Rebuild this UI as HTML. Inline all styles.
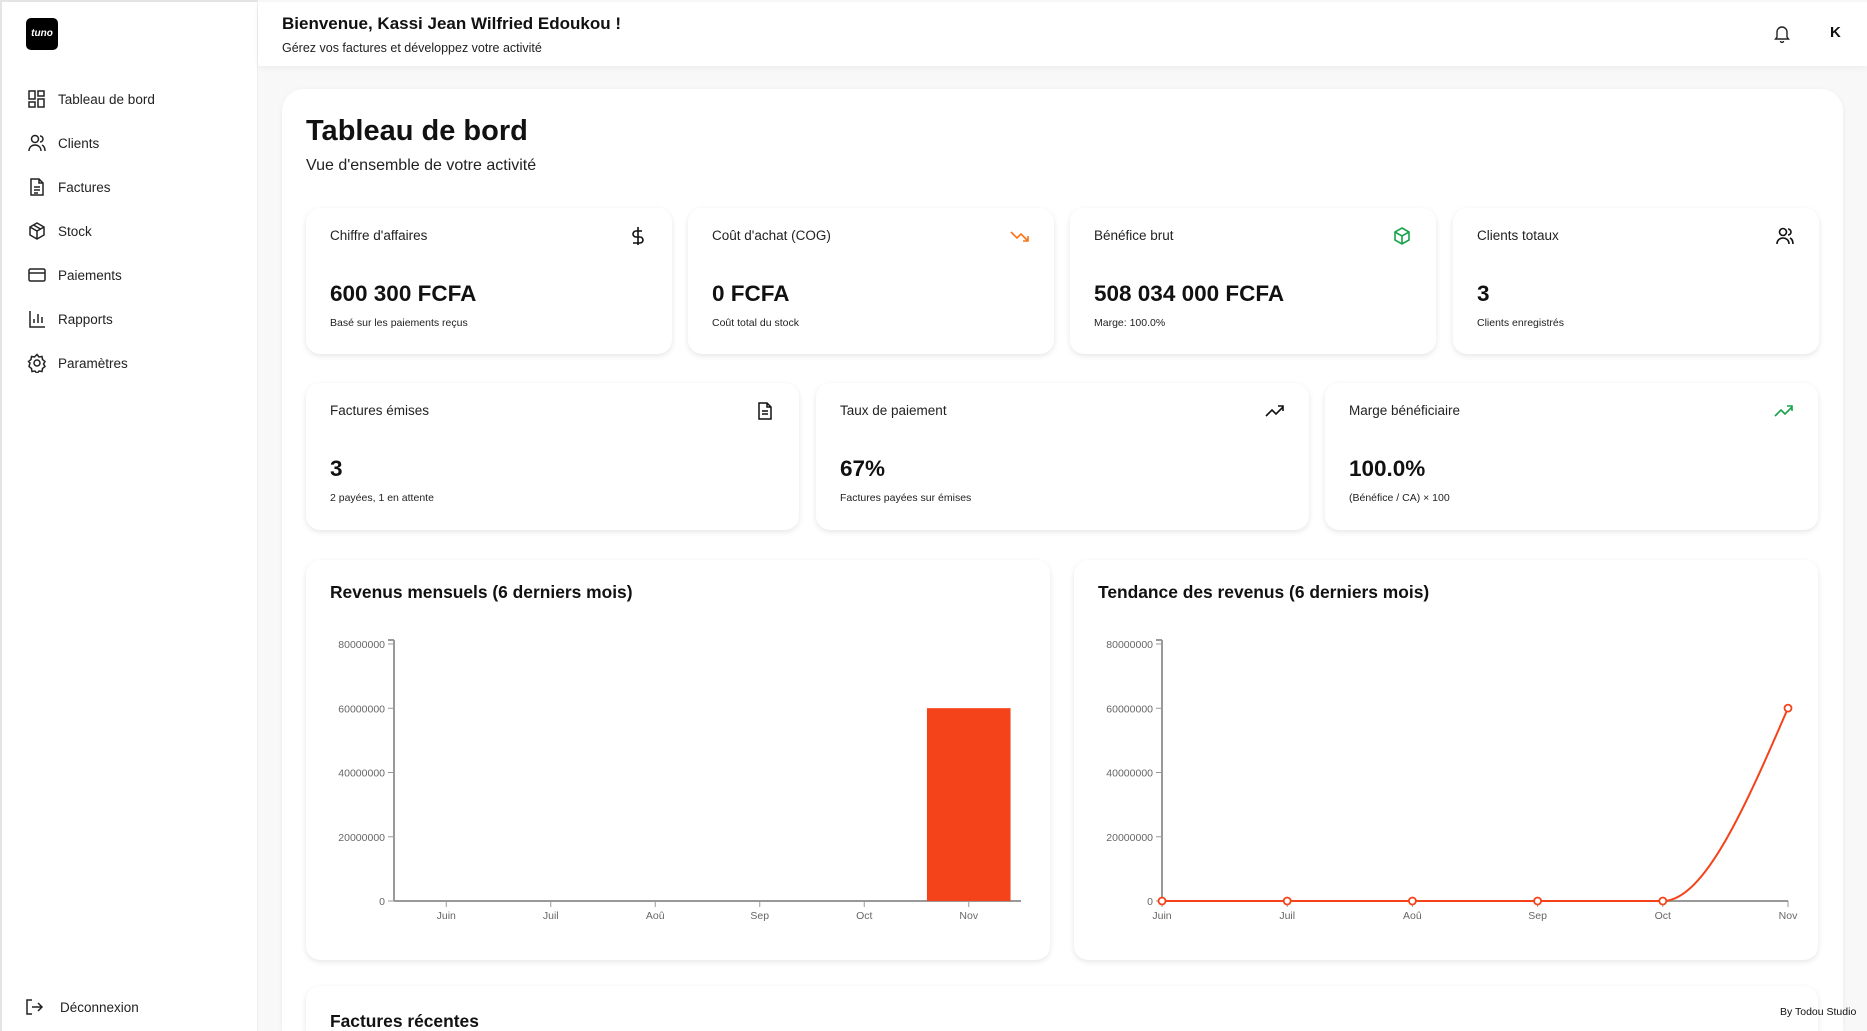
<!DOCTYPE html>
<html><head><meta charset="utf-8">
<style>
*{box-sizing:border-box;margin:0;padding:0}
html,body{width:1867px;height:1031px;overflow:hidden}
body{background:#f8f8f8;font-family:"Liberation Sans",sans-serif;color:#111;position:relative}
.sidebar{position:absolute;left:0;top:0;width:258px;height:1031px;background:#fff;border-right:1px solid #eee;border-left:2px solid #e4e4e4;border-top:2px solid #e4e4e4}
.logo{position:absolute;left:24px;top:16px;width:32px;height:32px;background:#000;border-radius:5px;color:#fff;font-size:10px;font-weight:bold;font-style:italic;text-align:center;line-height:32px}
.nav{position:absolute;left:25px;display:flex;align-items:center;font-size:13.5px;color:#222}
.nav svg{width:20px;height:20px;margin-right:11px}
.header{position:absolute;left:258px;top:2px;width:1609px;height:64px;background:#fff;box-shadow:0 2px 6px rgba(0,0,0,.05)}
.main{position:absolute;left:282px;top:89px;width:1561px;height:942px;background:#fff;border-radius:22px 22px 0 0;box-shadow:0 1px 6px rgba(0,0,0,.05)}
.card{position:absolute;background:#fff;border-radius:14px;box-shadow:0 2px 6px rgba(0,0,0,.1)}
.lbl{position:absolute;left:24px;top:20px;font-size:13.5px;color:#222}
.val{position:absolute;left:24px;top:73px;font-size:22.5px;font-weight:bold}
.sub{position:absolute;left:24px;top:109px;font-size:10.5px;color:#222}
.ico{position:absolute;right:24px;top:18px;width:20px;height:20px}
.ctitle{position:absolute;left:24px;top:22px;font-size:17.4px;font-weight:bold}
</style></head><body>
<div class="sidebar">
<div class="logo">tuno</div>
<div class="nav" style="top:87px"><svg viewBox="0 0 20 20" fill="none" stroke="#222" stroke-width="1.5"><rect x="2" y="2" width="6" height="8"/><rect x="11" y="2" width="6" height="5"/><rect x="11" y="10" width="6" height="8"/><rect x="2" y="13" width="6" height="5"/></svg>Tableau de bord</div>
<div class="nav" style="top:131px"><svg viewBox="0 0 20 20" fill="none" stroke="#222" stroke-width="1.5"><circle cx="8" cy="6" r="3.5"/><path d="M2 18c0-4 3-6 6-6s6 2 6 6M13 3a3 3 0 010 6M15 12c2 1 3 3 3 6"/></svg>Clients</div>
<div class="nav" style="top:175px"><svg viewBox="0 0 20 20" fill="none" stroke="#222" stroke-width="1.5"><path d="M4 2h8l4 4v12H4z M12 2v4h4 M7 10h6 M7 13h6 M7 16h4"/></svg>Factures</div>
<div class="nav" style="top:219px"><svg viewBox="0 0 20 20" fill="none" stroke="#222" stroke-width="1.5"><path d="M10 2l7 4v8l-7 4-7-4V6z M3 6l7 4 7-4 M10 10v8 M6.5 4l7 4"/></svg>Stock</div>
<div class="nav" style="top:263px"><svg viewBox="0 0 20 20" fill="none" stroke="#222" stroke-width="1.5"><rect x="2" y="4" width="16" height="12" rx="1.5"/><path d="M2 8h16"/></svg>Paiements</div>
<div class="nav" style="top:307px"><svg viewBox="0 0 20 20" fill="none" stroke="#222" stroke-width="1.5"><path d="M3 2v16h15 M7 14v-4 M11 14V5 M15 14v-6"/></svg>Rapports</div>
<div class="nav" style="top:351px"><svg viewBox="0 0 20 20" fill="none" stroke="#222" stroke-width="1.5"><circle cx="10" cy="10" r="3"/><path d="M10 1.5l2 2.5 3-.5.5 3 2.5 2-1.5 2.5 1.5 2.5-2.5 2-.5 3-3-.5-2 2.5-2-2.5-3 .5-.5-3-2.5-2L3 10 1.5 8.5 4 6.5l.5-3 3 .5z"/></svg>Paramètres</div>
<div class="nav" style="top:995px;left:22px"><svg viewBox="0 0 20 20" fill="none" stroke="#222" stroke-width="1.5" style="margin-right:16px"><path d="M8 3H3v14h5 M8 10h10 M14 6l4 4-4 4"/></svg>Déconnexion</div>
</div>
<div class="header">
<div style="position:absolute;left:24px;top:12px;font-size:17px;font-weight:bold">Bienvenue, Kassi Jean Wilfried Edoukou !</div>
<div style="position:absolute;left:24px;top:39px;font-size:12.5px;color:#222">Gérez vos factures et développez votre activité</div>
<svg style="position:absolute;left:1516px;top:23px" width="16" height="18" viewBox="0 0 16 18" fill="none" stroke="#222" stroke-width="1.4"><path d="M3 12V7a5 5 0 0110 0v5l1.5 2h-13z M6.5 16a1.5 1.5 0 003 0"/></svg>
<div style="position:absolute;left:1572px;top:22px;font-size:15px;font-weight:bold">K</div>
</div>
<div class="main">
<div style="position:absolute;left:24px;top:26px;font-size:29px;font-weight:bold">Tableau de bord</div>
<div style="position:absolute;left:24px;top:68px;font-size:16px;color:#222">Vue d'ensemble de votre activité</div>
</div>

<div class="card" style="left:306px;top:208px;width:366px;height:146px"><div class="lbl">Chiffre d'affaires</div><svg class="ico" viewBox="0 0 20 20" fill="none" stroke="#111" stroke-width="1.6"><path d="M10 1v18 M14 5H8a3 3 0 000 6h4a3 3 0 010 6H5"/></svg><div class="val">600 300 FCFA</div><div class="sub">Basé sur les paiements reçus</div></div>
<div class="card" style="left:688px;top:208px;width:366px;height:146px"><div class="lbl">Coût d'achat (COG)</div><svg class="ico" viewBox="0 0 20 20" fill="none" stroke="#f97316" stroke-width="1.6"><path d="M1 6l6 6 4-4 7 7 M13 15h5v-5"/></svg><div class="val">0 FCFA</div><div class="sub">Coût total du stock</div></div>
<div class="card" style="left:1070px;top:208px;width:366px;height:146px"><div class="lbl">Bénéfice brut</div><svg class="ico" viewBox="0 0 20 20" fill="none" stroke="#16a34a" stroke-width="1.6"><path d="M10 2l7 4v8l-7 4-7-4V6z M3 6l7 4 7-4 M10 10v8"/></svg><div class="val">508 034 000 FCFA</div><div class="sub">Marge: 100.0%</div></div>
<div class="card" style="left:1453px;top:208px;width:366px;height:146px"><div class="lbl">Clients totaux</div><svg class="ico" viewBox="0 0 20 20" fill="none" stroke="#111" stroke-width="1.6"><circle cx="8" cy="6" r="3.5"/><path d="M2 18c0-4 3-6 6-6s6 2 6 6M13 3a3 3 0 010 6M15 12c2 1 3 3 3 6"/></svg><div class="val">3</div><div class="sub">Clients enregistrés</div></div>

<div class="card" style="left:306px;top:383px;width:493px;height:147px"><div class="lbl">Factures émises</div><svg class="ico" viewBox="0 0 20 20" fill="none" stroke="#111" stroke-width="1.5"><path d="M4 2h8l4 4v12H4z M12 2v4h4 M7 10h6 M7 13h6"/></svg><div class="val">3</div><div class="sub">2 payées, 1 en attente</div></div>
<div class="card" style="left:816px;top:383px;width:493px;height:147px"><div class="lbl">Taux de paiement</div><svg class="ico" viewBox="0 0 20 20" fill="none" stroke="#111" stroke-width="1.6"><path d="M1 15l6-6 4 4 7-7 M13 5h5v5"/></svg><div class="val">67%</div><div class="sub">Factures payées sur émises</div></div>
<div class="card" style="left:1325px;top:383px;width:493px;height:147px"><div class="lbl">Marge bénéficiaire</div><svg class="ico" viewBox="0 0 20 20" fill="none" stroke="#16a34a" stroke-width="1.6"><path d="M1 15l6-6 4 4 7-7 M13 5h5v5"/></svg><div class="val">100.0%</div><div class="sub">(Bénéfice / CA) × 100</div></div>

<div class="card" style="left:306px;top:560px;width:744px;height:400px"><div class="ctitle">Revenus mensuels (6 derniers mois)</div></div>
<div class="card" style="left:1074px;top:560px;width:744px;height:400px"><div class="ctitle">Tendance des revenus (6 derniers mois)</div></div>
<div class="card" style="left:306px;top:986px;width:1512px;height:45px;border-radius:14px 14px 0 0"><div class="ctitle" style="top:25px">Factures récentes</div></div>

<svg id="charts" style="position:absolute;left:0;top:0" width="1867" height="1031"></svg>
<div style="position:absolute;left:1780px;top:1006px;font-size:10.5px;color:#111">By Todou Studio</div>

<script>
const months = ["Juin","Juil","Aoû","Sep","Oct","Nov"];
const barValues = [0,0,0,0,0,60030000];
const lineValues = [0,0,0,0,0,60030000];
const yTicks = [0,20000000,40000000,60000000,80000000];
const yMax = 80000000;

const NS="http://www.w3.org/2000/svg";
const svg=document.getElementById('charts');
function mk(tag,attrs,parent){const e=document.createElementNS(NS,tag);for(const k in attrs)e.setAttribute(k,attrs[k]);(parent||svg).appendChild(e);return e;}
const y0=901,y1=644;
function yS(v){return y0-(v/yMax)*(y0-y1);}
function axes(x0,x1,g){
  mk('line',{x1:x0,y1:y1-4,x2:x0,y2:y0,stroke:'#999','stroke-width':2},g);
  mk('line',{x1:x0-6,y1:y1-4,x2:x0,y2:y1-4,stroke:'#999','stroke-width':2},g);
  mk('line',{x1:x0,y1:y0,x2:x1,y2:y0,stroke:'#999','stroke-width':2},g);
  yTicks.forEach(t=>{
    mk('line',{x1:x0-6,y1:yS(t),x2:x0,y2:yS(t),stroke:'#999'},g);
    const tx=mk('text',{x:x0-9,y:yS(t)+4,'text-anchor':'end','font-size':10.5,fill:'#666','font-family':'Liberation Sans, sans-serif'},g);
    tx.textContent=t;
  });
}
const gb=mk('g',{});


const bx0=394,bx1=1021,band=(bx1-bx0)/months.length;
axes(bx0,bx1,gb);
months.forEach((m,i)=>{
  const cx=bx0+band*(i+0.5);
  const bw=band*0.8;
  if(barValues[i]>0){
    const r=mk('rect',{x:cx-bw/2,y:yS(barValues[i]),width:bw,height:y0-yS(barValues[i]),fill:'#f4431a'},gb);
    
    
  }
  mk('line',{x1:cx,y1:y0,x2:cx,y2:y0+6,stroke:'#999'},gb);
  const t=mk('text',{x:cx,y:y0+18,'text-anchor':'middle','font-size':10.5,fill:'#666','font-family':'Liberation Sans, sans-serif'},gb);
  t.textContent=m;
});
const gl=mk('g',{});


const lx0=1162,lx1=1788,step=(lx1-lx0)/(months.length-1);
axes(lx0,lx1,gl);
const pts=lineValues.map((v,i)=>[lx0+step*i,yS(v)]);
const n=pts.length,d=[],m=[];
for(let i=0;i<n-1;i++)d.push((pts[i+1][1]-pts[i][1])/(pts[i+1][0]-pts[i][0]));
for(let i=0;i<n;i++){
  if(i===0)m.push(d[0]);else if(i===n-1)m.push(d[n-2]);
  else m.push(d[i-1]*d[i]<=0?0:3*(d[i-1]+d[i])/(2*d[i-1]/d[i]+2*d[i]/d[i-1]+2));
}
if(n>1){m[n-1]=(3*d[n-2]-m[n-2])/2;m[0]=(3*d[0]-m[1])/2;}
let p='M'+pts[0][0]+','+pts[0][1];
for(let i=0;i<n-1;i++){
  const h=(pts[i+1][0]-pts[i][0])/3;
  p+=' C'+(pts[i][0]+h)+','+(pts[i][1]+m[i]*h)+' '+(pts[i+1][0]-h)+','+(pts[i+1][1]-m[i+1]*h)+' '+pts[i+1][0]+','+pts[i+1][1];
}
const path=mk('path',{d:p,fill:'none',stroke:'#f4431a','stroke-width':2},gl);


months.forEach((mo,i)=>{
  const cx=pts[i][0];
  mk('line',{x1:cx,y1:y0,x2:cx,y2:y0+6,stroke:'#999'},gl);
  const t=mk('text',{x:cx,y:y0+18,'text-anchor':'middle','font-size':10.5,fill:'#666','font-family':'Liberation Sans, sans-serif'},gl);
  t.textContent=mo;
  const c=mk('circle',{cx:cx,cy:pts[i][1],r:3.5,fill:'#fff',stroke:'#f4431a','stroke-width':1.8},gl);
  
  
});
</script>
</body></html>
